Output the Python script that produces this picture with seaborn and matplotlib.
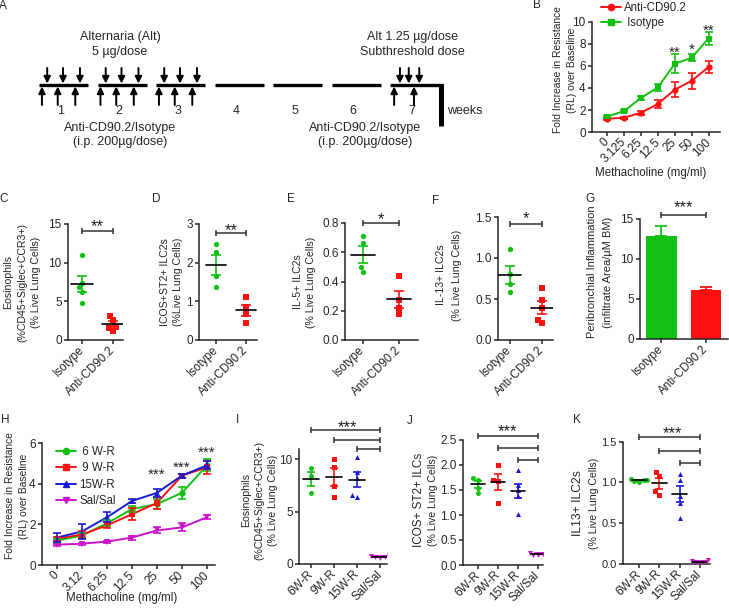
import numpy as np
import pandas as pd
import matplotlib
matplotlib.use("Agg")
import matplotlib.pyplot as plt
from matplotlib.lines import Line2D
from matplotlib.ticker import FormatStrFormatter
import seaborn as sns

# ---------------- data ----------------
# Panel B
doses_B = ["0", "3.125", "6.25", "12.5", "25", "50", "100"]
anti_B = [1.2, 1.3, 1.75, 2.55, 3.85, 4.65, 5.9]
anti_B_sem = [0.1, 0.1, 0.2, 0.4, 0.7, 0.7, 0.55]
iso_B = [1.4, 1.9, 3.1, 4.05, 6.2, 6.75, 8.5]
iso_B_sem = [0.1, 0.1, 0.15, 0.35, 0.85, 0.3, 0.6]
stars_B_idx = [4, 5, 6]
stars_B_txt = ["**", "*", "**"]
stars_B_y = [7.6, 7.9, 9.6]

# Panels C-F (two groups)
groups_CF = ["Isotype", "Anti-CD90.2"]
eos_iso = [11.0, 7.4, 6.8, 6.2, 4.8]
eos_anti = [3.16, 2.6, 1.73, 1.6, 1.17]
icos_iso = [2.47, 2.27, 1.65, 1.38]
icos_anti = [1.12, 0.85, 0.67, 0.43]
il5_iso = [0.71, 0.66, 0.50, 0.465]
il5_anti = [0.44, 0.275, 0.22, 0.18]
il13_iso = [1.11, 0.80, 0.68, 0.59]
il13_anti = [0.64, 0.49, 0.39, 0.245, 0.21]

# Panel G
groups_G = ["Isotype", "Anti-CD90.2"]
infl_mean = [12.9, 6.1]
infl_sem = [1.2, 0.35]

# Panel H
doses_H = ["0", "3.12", "6.25", "12.5", "25", "50", "100"]
groups_H = ["6 W-R", "9 W-R", "15W-R", "Sal/Sal"]
h_6w = [1.2, 1.45, 2.05, 2.75, 3.0, 3.55, 4.9]
h_6w_sem = [0.1, 0.1, 0.15, 0.15, 0.25, 0.3, 0.3]
h_9w = [1.3, 1.5, 1.95, 2.5, 3.05, 4.4, 4.8]
h_9w_sem = [0.1, 0.15, 0.15, 0.3, 0.3, 0.1, 0.3]
h_15w = [1.35, 1.65, 2.35, 3.15, 3.55, 4.4, 4.9]
h_15w_sem = [0.2, 0.35, 0.25, 0.1, 0.2, 0.1, 0.2]
h_sal = [1.0, 1.05, 1.15, 1.35, 1.7, 1.85, 2.35]
h_sal_sem = [0.05, 0.05, 0.05, 0.1, 0.15, 0.2, 0.1]
stars_H_idx = [4, 5, 6]
stars_H_y = [4.65, 5.0, 5.74]

# Panels I-K (four groups)
groups_IK = ["6W-R", "9W-R", "15W-R", "Sal/Sal"]
I_vals = [[9.1, 8.4, 6.75], [10.0, 9.27, 7.43, 6.35],
          [10.2, 8.8, 8.2, 6.6, 6.4], [0.85, 0.78, 0.7, 0.62, 0.6]]
J_vals = [[1.75, 1.70, 1.55, 1.45], [2.0, 1.71, 1.68, 1.25],
          [1.9, 1.6, 1.5, 1.38, 1.03], [0.27, 0.25, 0.22, 0.2, 0.2]]
K_vals = [[1.04, 1.03, 1.03, 1.02, 1.01], [1.13, 1.08, 0.89, 0.85],
          [1.10, 1.03, 0.83, 0.75, 0.56], [0.05, 0.04, 0.03, 0.02, 0.01]]
I_brackets = [12.76, 11.8, 10.95]
J_brackets = [2.58, 2.33, 2.11]
K_brackets = [1.56, 1.39, 1.235]
I_star_y, J_star_y, K_star_y = 13.46, 2.77, 1.665

# Panel A schematic (week units)
weeks = [1, 2, 3, 4, 5, 6, 7]
alt_days_early = [0.14, 0.41, 0.70]
ab_days_early = [0.05, 0.32, 0.62]
alt_days_late = [0.17, 0.32, 0.50]
ab_days_late = [0.07, 0.41]

# ---------------- style ----------------
GREEN = "#11c011"
RED = "#ff1010"
BLUE = "#1a1ad6"
MAG = "#cc11cc"

sns.set_style("ticks")
plt.rcParams["font.family"] = ["Liberation Sans", "DejaVu Sans"]
plt.rcParams["axes.linewidth"] = 1.1
plt.rcParams["xtick.major.width"] = 1.1
plt.rcParams["ytick.major.width"] = 1.1
plt.rcParams["xtick.major.size"] = 3
plt.rcParams["ytick.major.size"] = 3
plt.rcParams["xtick.labelsize"] = 8.5
plt.rcParams["ytick.labelsize"] = 8.5
plt.rcParams["xtick.major.pad"] = 1.5
plt.rcParams["ytick.major.pad"] = 1.5

W, H = 729, 613
fig = plt.figure(figsize=(W / 100, H / 100), dpi=100)


def px_axes(x0, x1, yt, yb):
    return fig.add_axes([x0 / W, 1 - yb / H, (x1 - x0) / W, (yb - yt) / H])


def ftext(x, y, s, **kw):
    fig.text(x / W, 1 - y / H, s, **kw)


def ylab(lines, xs, y, sizes):
    for line, x, sz in zip(lines, xs, sizes):
        ftext(x, y, line, rotation=90, ha="center", va="center", fontsize=sz)


def style_ax(ax, xlim, ylim, yticks, labels, fmt=None):
    ax.set_xlim(*xlim)
    ax.set_ylim(*ylim)
    ax.set_yticks(yticks)
    if fmt:
        ax.yaxis.set_major_formatter(FormatStrFormatter(fmt))
    ax.set_xticks(range(len(labels)))
    ax.set_xticklabels(labels, rotation=45, ha="right", va="center",
                       rotation_mode="anchor")
    ax.set_xlabel("")
    ax.set_ylabel("")
    sns.despine(ax=ax)
    ax.tick_params(axis="x", pad=3)


def bracket(ax, x1, x2, y):
    ax.plot([x1, x2], [y, y], color="#333333", lw=1.1, marker="|",
            markersize=5, mew=1.1, clip_on=False, zorder=6)


def stars(ax, x, y, text, size=12):
    ax.annotate(text, (x, y), xytext=(0, -0.57 * size), textcoords="offset points",
                ha="center", va="baseline", fontsize=size, color="#222222",
                annotation_clip=False)


def dot_panel(ax, groups, vals, colors, markers, size, hw, cap):
    for i, (g, v, c, m) in enumerate(zip(groups, vals, colors, markers)):
        df = pd.DataFrame({"group": [g] * len(v), "value": v})
        sns.swarmplot(data=df, x="group", y="value", order=groups, color=c,
                      marker=m, size=size, linewidth=0, ax=ax, zorder=3,
                      warn_thresh=1.0)
        mean = np.mean(v)
        sem = np.std(v, ddof=1) / np.sqrt(len(v))
        ax.errorbar(i, mean, yerr=sem, color=c, capsize=cap, lw=1.2,
                    capthick=1.2, zorder=2)
        ax.plot([i - hw, i + hw], [mean, mean], color="k", lw=1.2, zorder=4)


# ---------------- Panel A ----------------
sch = fig.add_axes([0, 1 - 160 / H, 490 / W, 160 / H])
sch.set_xlim(-0.667, 7.709)
sch.set_ylim(160, 0)
sch.axis("off")
for k in weeks:
    start = k - 1
    end = start + (0.906 if k == 7 else 0.84)
    sch.plot([start, end], [85, 85], color="k", lw=2.4, solid_capstyle="butt")
    sch.text(start + 0.37, 111, str(k), ha="center", va="center", fontsize=9)
sch.plot([6.87, 6.87], [84, 126], color="k", lw=3.6, solid_capstyle="butt")
arrow_kw = dict(arrowstyle="-|>,head_length=0.4,head_width=0.2", lw=1.4,
                color="k", shrinkA=0, shrinkB=0)
for k in weeks:
    if k <= 3:
        downs, ups = alt_days_early, ab_days_early
    elif k == 7:
        downs, ups = alt_days_late, ab_days_late
    else:
        continue
    for d in downs:
        sch.annotate("", xy=(k - 1 + d, 83.5), xytext=(k - 1 + d, 68), arrowprops=arrow_kw)
    for d in ups:
        sch.annotate("", xy=(k - 1 + d, 86.5), xytext=(k - 1 + d, 105), arrowprops=arrow_kw)
sch.text(1.385, 44.5, "Alternaria (Alt)\n5 µg/dose", ha="center", va="center",
         fontsize=9, linespacing=1.25)
sch.text(6.39, 44.5, "Alt 1.25 µg/dose\nSubthreshold dose", ha="center",
         va="center", fontsize=9, linespacing=1.25)
sch.text(1.385, 135, "Anti-CD90.2/Isotype\n(i.p. 200µg/dose)", ha="center",
         va="center", fontsize=9, linespacing=1.25)
sch.text(5.57, 135, "Anti-CD90.2/Isotype\n(i.p. 200µg/dose)", ha="center",
         va="center", fontsize=9, linespacing=1.25)
sch.text(6.974, 111, "weeks", ha="left", va="center", fontsize=9)

# ---------------- Panel B ----------------
axB = px_axes(592, 720, 22, 132)
dfB = pd.DataFrame({
    "idx": list(range(len(doses_B))) * 2,
    "value": anti_B + iso_B,
    "group": ["Anti-CD90.2"] * len(doses_B) + ["Isotype"] * len(doses_B),
})
palB = {"Anti-CD90.2": RED, "Isotype": GREEN}
mkB = {"Anti-CD90.2": "o", "Isotype": "s"}
sns.lineplot(data=dfB, x="idx", y="value", hue="group", style="group",
             hue_order=groups_CF[::-1], palette=palB, markers=mkB, dashes=False,
             markersize=4.5, markeredgewidth=0, linewidth=1.4, legend=False,
             errorbar=None, ax=axB)
for vals, sems, c in [(anti_B, anti_B_sem, RED), (iso_B, iso_B_sem, GREEN)]:
    axB.errorbar(range(len(doses_B)), vals, yerr=sems, fmt="none", ecolor=c,
                 elinewidth=1.2, capsize=3, capthick=1.2)
style_ax(axB, (-0.9, 6.68), (0, 10), [0, 2, 4, 6, 8, 10], doses_B)
for i, t, y in zip(stars_B_idx, stars_B_txt, stars_B_y):
    stars(axB, i, y, t, size=11)
handlesB = [Line2D([], [], color=RED, marker="o", markersize=4.5, lw=1.4),
            Line2D([], [], color=GREEN, marker="s", markersize=4.5, lw=1.4)]
axB.legend(handlesB, ["Anti-CD90.2", " Isotype"], loc="upper left",
           bbox_to_anchor=(601 / W, 1 - 2 / H), bbox_transform=fig.transFigure,
           frameon=False, fontsize=8.3, borderpad=0, borderaxespad=0,
           handlelength=1.7, handletextpad=0.3, labelspacing=0.25)
ylab(["Fold Increase in Resistance", "(RL) over Baseline"], [558, 572], 70, [7.4, 7.4])
ftext(651, 173, "Methacholine (mg/ml)", ha="center", va="center", fontsize=8.3)

# ---------------- Panels C-F ----------------
axC = px_axes(68, 123, 224, 340)
dot_panel(axC, groups_CF, [eos_iso, eos_anti], [GREEN, RED], ["o", "s"], 3.8, 0.34, 3.5)
style_ax(axC, (-0.45, 1.32), (0, 15), [0, 5, 10, 15], groups_CF)
bracket(axC, 0, 1, 14.1)
stars(axC, 0.5, 15.3, "**")
ylab(["Eosinophils", "(%CD45+Siglec+CCR3+)", "(% Live Lung Cells)"],
     [8, 22, 36], 282, [7.6, 7.6, 7.6])

axD = px_axes(199, 257, 224, 340)
dot_panel(axD, groups_CF, [icos_iso, icos_anti], [GREEN, RED], ["o", "s"], 3.8, 0.34, 3.5)
style_ax(axD, (-0.57, 1.37), (0, 3), [0, 1, 2, 3], groups_CF)
bracket(axD, 0, 1, 2.76)
stars(axD, 0.5, 2.95, "**")
ylab(["ICOS+ST2+ ILC2s", "(%Live Lung Cells)"], [165, 178], 282, [7.6, 7.6])

axE = px_axes(345, 418, 223, 340)
dot_panel(axE, groups_CF, [il5_iso, il5_anti], [GREEN, RED], ["o", "s"], 3.8, 0.33, 3.5)
style_ax(axE, (-0.49, 1.52), (0, 0.8), [0, 0.2, 0.4, 0.6, 0.8], groups_CF, "%.1f")
bracket(axE, 0, 1, 0.798)
stars(axE, 0.5, 0.855, "*")
ylab(["IL-5+ ILC2s", "(% Live Lung Cells)"], [298, 311], 282, [7.6, 7.6])

axF = px_axes(498, 553, 217, 340)
dot_panel(axF, groups_CF, [il13_iso, il13_anti], [GREEN, RED], ["o", "s"], 3.8, 0.34, 3.5)
style_ax(axF, (-0.35, 1.32), (0, 1.5), [0, 0.5, 1.0, 1.5], groups_CF, "%.1f")
bracket(axF, 0, 1, 1.42)
stars(axF, 0.5, 1.545, "*")
ylab(["IL-13+ ILC2s", "(% Live Lung Cells)"], [441, 457], 275, [7.6, 7.6])

# ---------------- Panel G ----------------
axG = px_axes(640, 728, 219, 339)
dfG = pd.DataFrame({"group": groups_G, "value": infl_mean})
sns.barplot(data=dfG, x="group", y="value", hue="group", order=groups_G,
            palette=[GREEN, RED], width=0.69, legend=False, errorbar=None,
            linewidth=0, saturation=1, ax=axG)
for i, (m, s, c) in enumerate(zip(infl_mean, infl_sem, [GREEN, RED])):
    axG.errorbar(i, m, yerr=[[0], [s]], color=c, capsize=4.5, lw=1.3, capthick=1.3)
style_ax(axG, (-0.47, 1.49), (0, 15), [0, 5, 10, 15], groups_G)
bracket(axG, 0, 1, 15.5)
stars(axG, 0.5, 17.0, "***")
ylab(["Peribronchial Inflammation", "(infiltrate Area/µM BM)"], [592, 608], 272, [8, 8])

# ---------------- Panel H ----------------
axH = px_axes(42, 215, 443, 565)
h_vals = [h_6w, h_9w, h_15w, h_sal]
h_sems = [h_6w_sem, h_9w_sem, h_15w_sem, h_sal_sem]
colH = [GREEN, RED, BLUE, MAG]
mkH = ["o", "s", "^", "v"]
dfH = pd.DataFrame({
    "idx": list(range(len(doses_H))) * len(groups_H),
    "value": sum(h_vals, []),
    "group": sum([[g] * len(doses_H) for g in groups_H], []),
})
sns.lineplot(data=dfH, x="idx", y="value", hue="group", style="group",
             hue_order=groups_H, style_order=groups_H,
             palette=dict(zip(groups_H, colH)), markers=dict(zip(groups_H, mkH)),
             dashes=False, markersize=4.5, markeredgewidth=0, linewidth=1.4,
             legend=False, errorbar=None, ax=axH)
for vals, sems, c in zip(h_vals, h_sems, colH):
    axH.errorbar(range(len(doses_H)), vals, yerr=sems, fmt="none", ecolor=c,
                 elinewidth=1.2, capsize=3, capthick=1.2)
style_ax(axH, (-0.6, 6.32), (0, 6), [0, 2, 4, 6], doses_H)
for i, y in zip(stars_H_idx, stars_H_y):
    stars(axH, i, y, "***", size=11)
handlesH = [Line2D([], [], color=c, marker=m, markersize=4.5, lw=1.4)
            for c, m in zip(colH, mkH)]
axH.legend(handlesH, [" " + g if g.startswith(("6", "9")) else g for g in groups_H],
           loc="upper left", bbox_to_anchor=(56 / W, 1 - 446 / H),
           bbox_transform=fig.transFigure, frameon=False, fontsize=8.3,
           borderpad=0, borderaxespad=0, handlelength=1.7, handletextpad=0.3,
           labelspacing=0.38)
ylab(["Fold Increase in Resistance", "(RL) over Baseline"], [10, 24], 496, [7.4, 7.4])
ftext(122, 598, "Methacholine (mg/ml)", ha="center", va="center", fontsize=8.3)

# ---------------- Panels I-K ----------------
colIK = [GREEN, RED, BLUE, MAG]
mkIK = ["o", "s", "^", "v"]

axI = px_axes(299, 387, 448.5, 564)
dot_panel(axI, groups_IK, I_vals, colIK, mkIK, 3.6, 0.36, 3)
style_ax(axI, (-0.52, 3.3), (0, 11), [0, 5, 10], groups_IK)
for j, y in enumerate(I_brackets):
    bracket(axI, j, 3, y)
stars(axI, 1.6, I_star_y, "***")
ylab(["Eosinophils", "(%CD45+Siglec+CCR3+)", "(% Live Lung Cells)"],
     [246, 259, 273], 500, [7.6, 7.6, 7.6])

axJ = px_axes(463, 543, 440, 565)
dot_panel(axJ, groups_IK, J_vals, colIK, mkIK, 3.6, 0.37, 3)
style_ax(axJ, (-0.75, 3.25), (0, 2.5), [0, 0.5, 1.0, 1.5, 2.0, 2.5], groups_IK, "%.1f")
for j, y in enumerate(J_brackets):
    bracket(axJ, j, 3, y)
stars(axJ, 1.45, J_star_y, "***")
ylab(["ICOS+ ST2+ ILCs", "(% Live Lung Cells)"], [419, 433], 500, [8.5, 7.6])

axK = px_axes(623, 710, 441.7, 564)
dot_panel(axK, groups_IK, K_vals, colIK, mkIK, 3.6, 0.37, 3)
style_ax(axK, (-0.79, 3.5), (0, 1.5), [0, 0.5, 1.0, 1.5], groups_IK, "%.1f")
axK.tick_params(axis="y", labelsize=8)
for j, y in enumerate(K_brackets):
    bracket(axK, j, 3, y)
stars(axK, 1.65, K_star_y, "***")
ylab(["IL13+ ILC2s", "(% Live Lung Cells)"], [578, 594], 503, [8.7, 7.6])

# ---------------- panel letters ----------------
for letter, x, y in [("A", 3, 6), ("B", 537, 5), ("C", 4, 199), ("D", 156, 199),
                     ("E", 291, 199), ("F", 436, 201), ("G", 590, 199),
                     ("H", 5, 420), ("I", 238, 420), ("J", 410, 421), ("K", 577, 420)]:
    ftext(x, y, letter, ha="center", va="center", fontsize=8.5)

fig.savefig("out.png", dpi=100)
